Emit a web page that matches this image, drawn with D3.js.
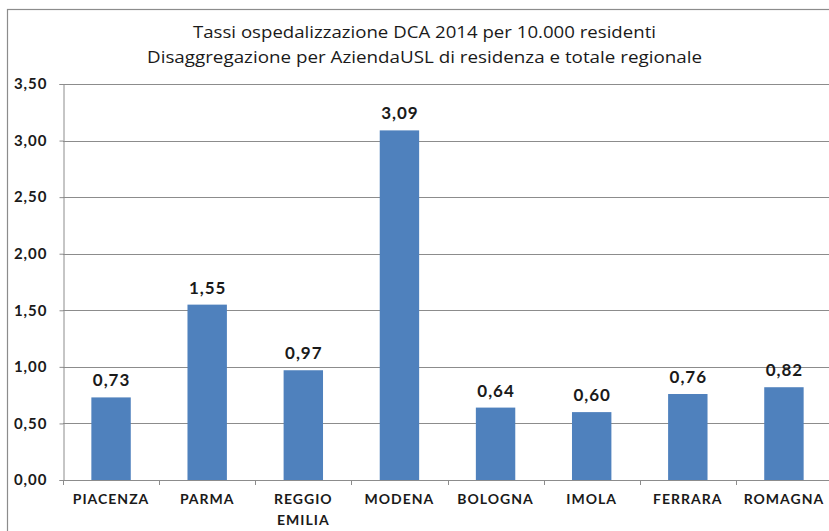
<!DOCTYPE html>
<html>
<head>
<meta charset="utf-8">
<script src="https://cdn.jsdelivr.net/npm/d3@7"></script>
<style>
  body { margin: 0; background: #fff; }
  text { font-family: Lato, "Open Sans", sans-serif; fill: #1a1a1a; }
</style>
</head>
<body>
<div id="chart"></div>
<script>
// chart data
let categories = ["PIACENZA", "PARMA", "REGGIO EMILIA", "MODENA", "BOLOGNA", "IMOLA", "FERRARA", "ROMAGNA"];
let values = [0.73, 1.55, 0.97, 3.09, 0.64, 0.60, 0.76, 0.82];
let yTicks = [0, 0.5, 1, 1.5, 2, 2.5, 3, 3.5];
let titleLines = [
  "Tassi ospedalizzazione DCA 2014 per 10.000 residenti",
  "Disaggregazione per AziendaUSL di residenza e totale regionale"
];

let svgWidth = 829;
let svgHeight = 531;

let margin = { top: 84, right: -3, bottom: 51, left: 63 };
let width = svgWidth - margin.left - margin.right;
let height = svgHeight - margin.top - margin.bottom;

let fmt = d => d.toFixed(2).replace(".", ",");

let svg = d3.select("#chart")
  .append("svg")
  .attr("width", svgWidth)
  .attr("height", svgHeight);

// outer chart frame
svg.append("rect")
  .attr("x", 7.5)
  .attr("y", 9.5)
  .attr("width", 840)
  .attr("height", 540)
  .attr("fill", "none")
  .attr("stroke", "#8c8c8c")
  .attr("stroke-width", 1.2);

// title
svg.selectAll(".title")
  .data(titleLines)
  .enter()
  .append("text")
  .attr("class", "title")
  .attr("x", 424.5)
  .attr("y", (d, i) => 38 + i * 25)
  .attr("text-anchor", "middle")
  .style("font-family", "'Open Sans', sans-serif")
  .style("font-size", "15.5px")
  .attr("textLength", (d, i) => i === 0 ? 463 : 555)
  .attr("lengthAdjust", "spacingAndGlyphs")
  .text(d => d);

let chartGroup = svg.append("g")
  .attr("transform", `translate(${margin.left}, ${margin.top})`);

let xScale = d3.scaleBand()
  .domain(categories)
  .range([0, width])
  .paddingInner(0.59)
  .paddingOuter(0.295);

let yScale = d3.scaleLinear()
  .domain([0, 3.5])
  .range([height, 0]);

// gridlines
chartGroup.selectAll(".grid")
  .data(yTicks)
  .enter()
  .append("line")
  .attr("x1", 0)
  .attr("x2", width)
  .attr("y1", d => Math.round(yScale(d)) + 0.5)
  .attr("y2", d => Math.round(yScale(d)) + 0.5)
  .attr("stroke", "#8c8c8c")
  .attr("stroke-width", 1);

// y axis
let leftAxis = d3.axisLeft(yScale)
  .tickValues(yTicks)
  .tickFormat(fmt)
  .tickSize(4)
  .tickPadding(12);

let yAxis = chartGroup.append("g")
  .attr("transform", "translate(0.5,0)")
  .call(leftAxis);
yAxis.selectAll("path, line").attr("stroke", "#8c8c8c");
yAxis.selectAll("text")
  .style("font-size", "15px")
  .style("font-weight", "bold")
  .style("letter-spacing", "1px")
  .style("font-family", "Lato, sans-serif")
  .attr("fill", "#1a1a1a");

// x axis with ticks at category boundaries
let boundaries = d3.range(categories.length + 1).map(i => i * width / categories.length);
chartGroup.append("line")
  .attr("x1", 0).attr("x2", width)
  .attr("y1", height + 0.5).attr("y2", height + 0.5)
  .attr("stroke", "#8c8c8c");
chartGroup.selectAll(".xtick")
  .data(boundaries)
  .enter()
  .append("line")
  .attr("x1", d => Math.round(d) + 0.5)
  .attr("x2", d => Math.round(d) + 0.5)
  .attr("y1", height)
  .attr("y2", height + 5)
  .attr("stroke", "#8c8c8c");

// category labels
let catLabels = chartGroup.selectAll(".cat")
  .data(categories)
  .enter()
  .append("text")
  .attr("class", "cat")
  .attr("text-anchor", "middle")
  .attr("transform", d => `translate(${xScale(d) + xScale.bandwidth() / 2}, ${height + 24})`)
  .style("font-size", "14px")
  .style("font-weight", "bold")
  .style("letter-spacing", "1px");
catLabels.each(function(d) {
  let words = d === "REGGIO EMILIA" ? ["REGGIO", "EMILIA"] : [d];
  d3.select(this).selectAll("tspan")
    .data(words)
    .enter()
    .append("tspan")
    .attr("x", 0)
    .attr("dy", (w, i) => i === 0 ? 0 : 21)
    .text(w => w);
});

// bars
chartGroup.selectAll("rect.bar")
  .data(values)
  .enter()
  .append("rect")
  .attr("class", "bar")
  .attr("x", (d, i) => xScale(categories[i]))
  .attr("y", d => yScale(d))
  .attr("width", xScale.bandwidth())
  .attr("height", d => height - yScale(d))
  .attr("fill", "#4f81bd");

// value labels
chartGroup.selectAll(".val")
  .data(values)
  .enter()
  .append("text")
  .attr("class", "val")
  .attr("x", (d, i) => xScale(categories[i]) + xScale.bandwidth() / 2 + 0.5)
  .attr("y", d => yScale(d) - 11)
  .attr("text-anchor", "middle")
  .style("font-size", "17px")
  .style("font-weight", "bold")
  .style("letter-spacing", "1px")
  .text(fmt);
</script>
</body>
</html>
